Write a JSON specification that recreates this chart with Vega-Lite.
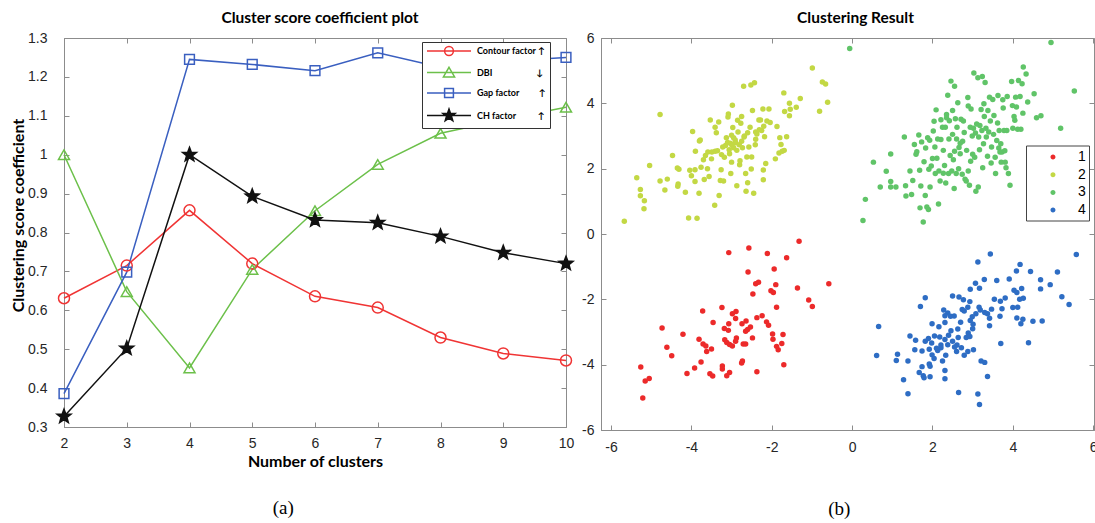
{
"$schema": "https://vega.github.io/schema/vega-lite/v6.json",
"background": "white",
"padding": {"left": 10, "top": 10, "right": 0, "bottom": 0},
"spacing": 4,
"config": {
  "view": {"stroke": "#8c8c8c", "strokeWidth": 1},
  "axis": {"grid": false, "labelFont": "Liberation Sans", "labelFontSize": 14, "labelColor": "#262626", "domainColor": "#8c8c8c", "tickColor": "#8c8c8c", "tickSize": -5, "labelPadding": 12, "titleFont": "Lato", "titleFontSize": 16, "titleFontWeight": "bold", "titleColor": "#000000", "labelFlush": false, "labelOverlap": false},
  "title": {"font": "Lato", "fontSize": 15.5, "fontWeight": "bold", "color": "#000000", "offset": 5, "frame": "group"}
},
"datasets": {
"lines": [
{"k":2,"v":0.631,"s":"Contour factor"},{"k":3,"v":0.715,"s":"Contour factor"},{"k":4,"v":0.857,"s":"Contour factor"},{"k":5,"v":0.72,"s":"Contour factor"},{"k":6,"v":0.636,"s":"Contour factor"},{"k":7,"v":0.607,"s":"Contour factor"},{"k":8,"v":0.53,"s":"Contour factor"},{"k":9,"v":0.489,"s":"Contour factor"},{"k":10,"v":0.471,"s":"Contour factor"},
{"k":2,"v":1.0,"s":"DBI"},{"k":3,"v":0.648,"s":"DBI"},{"k":4,"v":0.452,"s":"DBI"},{"k":5,"v":0.705,"s":"DBI"},{"k":6,"v":0.856,"s":"DBI"},{"k":7,"v":0.975,"s":"DBI"},{"k":8,"v":1.055,"s":"DBI"},{"k":9,"v":1.09,"s":"DBI"},{"k":10,"v":1.122,"s":"DBI"},
{"k":2,"v":0.386,"s":"Gap factor"},{"k":3,"v":0.698,"s":"Gap factor"},{"k":4,"v":1.245,"s":"Gap factor"},{"k":5,"v":1.232,"s":"Gap factor"},{"k":6,"v":1.216,"s":"Gap factor"},{"k":7,"v":1.262,"s":"Gap factor"},{"k":8,"v":1.225,"s":"Gap factor"},{"k":9,"v":1.24,"s":"Gap factor"},{"k":10,"v":1.25,"s":"Gap factor"},
{"k":2,"v":0.327,"s":"CH factor"},{"k":3,"v":0.502,"s":"CH factor"},{"k":4,"v":1.0,"s":"CH factor"},{"k":5,"v":0.893,"s":"CH factor"},{"k":6,"v":0.832,"s":"CH factor"},{"k":7,"v":0.825,"s":"CH factor"},{"k":8,"v":0.79,"s":"CH factor"},{"k":9,"v":0.748,"s":"CH factor"},{"k":10,"v":0.72,"s":"CH factor"}
],
"pts": [
{"x":-1.32,"y":-0.22,"c":"1"},{"x":-3.07,"y":-0.57,"c":"1"},{"x":-2.57,"y":-0.43,"c":"1"},{"x":-2.11,"y":-0.6,"c":"1"},{"x":-1.63,"y":-0.73,"c":"1"},{"x":-2.59,"y":-1.16,"c":"1"},{"x":-1.94,"y":-1.07,"c":"1"},{"x":-2.4,"y":-1.52,"c":"1"},{"x":-2.33,"y":-1.48,"c":"1"},{"x":-1.9,"y":-1.55,"c":"1"},{"x":-0.58,"y":-1.52,"c":"1"},{"x":-1.36,"y":-1.65,"c":"1"},{"x":-2.02,"y":-1.74,"c":"1"},{"x":-1.96,"y":-1.79,"c":"1"},{"x":-2.47,"y":-1.84,"c":"1"},{"x":-1.08,"y":-2.02,"c":"1"},{"x":-0.99,"y":-2.22,"c":"1"},{"x":-1.88,"y":-2.24,"c":"1"},{"x":-3.24,"y":-2.25,"c":"1"},{"x":-3.72,"y":-2.36,"c":"1"},{"x":-2.89,"y":-2.37,"c":"1"},{"x":-2.98,"y":-2.44,"c":"1"},{"x":-2.24,"y":-2.5,"c":"1"},{"x":-2.37,"y":-2.56,"c":"1"},{"x":-2.9,"y":-2.59,"c":"1"},{"x":-2.64,"y":-2.66,"c":"1"},{"x":-2.13,"y":-2.69,"c":"1"},{"x":-3.46,"y":-2.71,"c":"1"},{"x":-2.74,"y":-2.75,"c":"1"},{"x":-3.07,"y":-2.75,"c":"1"},{"x":-2.08,"y":-2.79,"c":"1"},{"x":-2.53,"y":-2.85,"c":"1"},{"x":-4.73,"y":-2.88,"c":"1"},{"x":-3.18,"y":-2.89,"c":"1"},{"x":-3.08,"y":-2.95,"c":"1"},{"x":-2.65,"y":-2.98,"c":"1"},{"x":-2.6,"y":-2.92,"c":"1"},{"x":-4.21,"y":-3.07,"c":"1"},{"x":-1.72,"y":-3.08,"c":"1"},{"x":-1.98,"y":-3.06,"c":"1"},{"x":-2.48,"y":-3.18,"c":"1"},{"x":-1.97,"y":-3.22,"c":"1"},{"x":-2.88,"y":-3.18,"c":"1"},{"x":-3.17,"y":-3.24,"c":"1"},{"x":-3.81,"y":-3.22,"c":"1"},{"x":-2.9,"y":-3.28,"c":"1"},{"x":-3.12,"y":-3.32,"c":"1"},{"x":-1.75,"y":-3.35,"c":"1"},{"x":-2.71,"y":-3.37,"c":"1"},{"x":-2.65,"y":-3.37,"c":"1"},{"x":-3.71,"y":-3.37,"c":"1"},{"x":-3.05,"y":-3.38,"c":"1"},{"x":-3.64,"y":-3.43,"c":"1"},{"x":-2.98,"y":-3.43,"c":"1"},{"x":-1.88,"y":-3.44,"c":"1"},{"x":-4.61,"y":-3.47,"c":"1"},{"x":-1.84,"y":-3.54,"c":"1"},{"x":-3.5,"y":-3.52,"c":"1"},{"x":-3.62,"y":-3.6,"c":"1"},{"x":-4.49,"y":-3.73,"c":"1"},{"x":-3.76,"y":-3.92,"c":"1"},{"x":-2.73,"y":-3.89,"c":"1"},{"x":-2.75,"y":-3.95,"c":"1"},{"x":-1.7,"y":-4.0,"c":"1"},{"x":-3.92,"y":-4.1,"c":"1"},{"x":-3.23,"y":-4.04,"c":"1"},{"x":-3.23,"y":-4.13,"c":"1"},{"x":-5.26,"y":-4.07,"c":"1"},{"x":-3.05,"y":-4.24,"c":"1"},{"x":-2.37,"y":-4.22,"c":"1"},{"x":-4.11,"y":-4.27,"c":"1"},{"x":-3.54,"y":-4.28,"c":"1"},{"x":-3.47,"y":-4.35,"c":"1"},{"x":-3.12,"y":-4.34,"c":"1"},{"x":-5.05,"y":-4.42,"c":"1"},{"x":-5.15,"y":-4.5,"c":"1"},{"x":-5.21,"y":-5.02,"c":"1"},
{"x":-5.67,"y":0.39,"c":"2"},{"x":-5.36,"y":1.72,"c":"2"},{"x":-5.27,"y":1.36,"c":"2"},{"x":-5.27,"y":1.17,"c":"2"},{"x":-5.17,"y":1.02,"c":"2"},{"x":-5.18,"y":0.77,"c":"2"},{"x":-5.04,"y":2.1,"c":"2"},{"x":-4.78,"y":3.66,"c":"2"},{"x":-4.78,"y":1.62,"c":"2"},{"x":-4.66,"y":1.35,"c":"2"},{"x":-4.6,"y":1.68,"c":"2"},{"x":-4.47,"y":2.4,"c":"2"},{"x":-4.35,"y":2.02,"c":"2"},{"x":-4.31,"y":1.98,"c":"2"},{"x":-4.33,"y":1.53,"c":"2"},{"x":-4.34,"y":1.46,"c":"2"},{"x":-4.15,"y":1.28,"c":"2"},{"x":-3.97,"y":3.14,"c":"2"},{"x":-4.07,"y":0.49,"c":"2"},{"x":-3.86,"y":0.48,"c":"2"},{"x":-4.04,"y":1.95,"c":"2"},{"x":-4.0,"y":1.78,"c":"2"},{"x":-3.91,"y":1.97,"c":"2"},{"x":-3.9,"y":2.53,"c":"2"},{"x":-3.91,"y":1.61,"c":"2"},{"x":-3.81,"y":1.25,"c":"2"},{"x":-3.8,"y":2.85,"c":"2"},{"x":-3.78,"y":2.88,"c":"2"},{"x":-3.76,"y":2.04,"c":"2"},{"x":-3.7,"y":2.27,"c":"2"},{"x":-3.68,"y":1.67,"c":"2"},{"x":-3.65,"y":2.4,"c":"2"},{"x":-3.59,"y":2.51,"c":"2"},{"x":-3.53,"y":3.49,"c":"2"},{"x":-3.56,"y":1.76,"c":"2"},{"x":-3.49,"y":2.51,"c":"2"},{"x":-3.42,"y":0.88,"c":"2"},{"x":-3.41,"y":2.53,"c":"2"},{"x":-3.41,"y":3.27,"c":"2"},{"x":-3.38,"y":3.1,"c":"2"},{"x":-3.32,"y":3.43,"c":"2"},{"x":-3.31,"y":1.18,"c":"2"},{"x":-3.28,"y":1.64,"c":"2"},{"x":-3.26,"y":1.97,"c":"2"},{"x":-3.25,"y":2.43,"c":"2"},{"x":-3.22,"y":2.66,"c":"2"},{"x":-3.2,"y":1.62,"c":"2"},{"x":-3.18,"y":2.35,"c":"2"},{"x":-3.15,"y":2.71,"c":"2"},{"x":-3.13,"y":2.95,"c":"2"},{"x":-3.09,"y":3.58,"c":"2"},{"x":-3.08,"y":3.67,"c":"2"},{"x":-3.06,"y":2.58,"c":"2"},{"x":-3.05,"y":2.46,"c":"2"},{"x":-3.03,"y":2.78,"c":"2"},{"x":-3.02,"y":1.85,"c":"2"},{"x":-3.0,"y":3.02,"c":"2"},{"x":-2.99,"y":2.72,"c":"2"},{"x":-2.98,"y":3.94,"c":"2"},{"x":-2.97,"y":3.26,"c":"2"},{"x":-2.95,"y":2.64,"c":"2"},{"x":-2.91,"y":2.88,"c":"2"},{"x":-2.9,"y":2.79,"c":"2"},{"x":-2.87,"y":1.48,"c":"2"},{"x":-2.87,"y":2.56,"c":"2"},{"x":-2.85,"y":3.48,"c":"2"},{"x":-2.84,"y":3.12,"c":"2"},{"x":-2.81,"y":2.73,"c":"2"},{"x":-2.8,"y":2.12,"c":"2"},{"x":-2.79,"y":2.24,"c":"2"},{"x":-2.77,"y":3.39,"c":"2"},{"x":-2.75,"y":2.84,"c":"2"},{"x":-2.73,"y":2.64,"c":"2"},{"x":-2.7,"y":4.52,"c":"2"},{"x":-2.69,"y":2.97,"c":"2"},{"x":-2.68,"y":3.0,"c":"2"},{"x":-2.65,"y":1.85,"c":"2"},{"x":-2.64,"y":1.31,"c":"2"},{"x":-2.62,"y":2.36,"c":"2"},{"x":-2.6,"y":1.57,"c":"2"},{"x":-2.57,"y":2.66,"c":"2"},{"x":-2.54,"y":3.27,"c":"2"},{"x":-2.52,"y":4.56,"c":"2"},{"x":-2.51,"y":1.99,"c":"2"},{"x":-2.5,"y":2.36,"c":"2"},{"x":-2.48,"y":3.78,"c":"2"},{"x":-2.45,"y":1.25,"c":"2"},{"x":-2.43,"y":4.63,"c":"2"},{"x":-2.4,"y":3.12,"c":"2"},{"x":-2.37,"y":3.06,"c":"2"},{"x":-2.32,"y":3.49,"c":"2"},{"x":-2.31,"y":3.19,"c":"2"},{"x":-2.28,"y":3.49,"c":"2"},{"x":-2.25,"y":3.17,"c":"2"},{"x":-2.22,"y":3.83,"c":"2"},{"x":-2.21,"y":1.96,"c":"2"},{"x":-2.21,"y":1.66,"c":"2"},{"x":-2.18,"y":2.98,"c":"2"},{"x":-2.15,"y":2.16,"c":"2"},{"x":-2.12,"y":3.46,"c":"2"},{"x":-2.07,"y":3.83,"c":"2"},{"x":-2.04,"y":3.41,"c":"2"},{"x":-1.91,"y":2.3,"c":"2"},{"x":-1.87,"y":3.29,"c":"2"},{"x":-1.82,"y":2.48,"c":"2"},{"x":-1.8,"y":2.95,"c":"2"},{"x":-1.77,"y":2.74,"c":"2"},{"x":-1.74,"y":2.53,"c":"2"},{"x":-1.7,"y":4.32,"c":"2"},{"x":-1.69,"y":2.56,"c":"2"},{"x":-1.68,"y":3.75,"c":"2"},{"x":-1.63,"y":2.98,"c":"2"},{"x":-1.56,"y":3.62,"c":"2"},{"x":-1.56,"y":4.0,"c":"2"},{"x":-1.54,"y":3.82,"c":"2"},{"x":-1.39,"y":3.88,"c":"2"},{"x":-1.29,"y":4.15,"c":"2"},{"x":-0.99,"y":5.08,"c":"2"},{"x":-0.81,"y":3.76,"c":"2"},{"x":-0.74,"y":4.65,"c":"2"},{"x":-0.66,"y":4.59,"c":"2"},{"x":-0.61,"y":4.03,"c":"2"},{"x":-2.41,"y":2.73,"c":"2"},{"x":-3.1,"y":2.8,"c":"2"},{"x":-2.95,"y":2.95,"c":"2"},{"x":-3.35,"y":2.55,"c":"2"},{"x":-2.6,"y":3.1,"c":"2"},{"x":-3.5,"y":2.3,"c":"2"},{"x":-2.4,"y":2.9,"c":"2"},{"x":-2.2,"y":3.3,"c":"2"},{"x":-3.6,"y":2.0,"c":"2"},{"x":-2.75,"y":3.6,"c":"2"},{"x":-3.0,"y":2.2,"c":"2"},
{"x":-0.06,"y":5.68,"c":"3"},{"x":4.95,"y":5.86,"c":"3"},{"x":5.53,"y":4.38,"c":"3"},{"x":0.27,"y":0.41,"c":"3"},{"x":0.33,"y":1.06,"c":"3"},{"x":0.53,"y":2.2,"c":"3"},{"x":0.7,"y":1.44,"c":"3"},{"x":0.85,"y":1.92,"c":"3"},{"x":0.96,"y":2.45,"c":"3"},{"x":0.96,"y":1.61,"c":"3"},{"x":0.96,"y":1.44,"c":"3"},{"x":1.09,"y":1.44,"c":"3"},{"x":1.3,"y":2.97,"c":"3"},{"x":1.33,"y":1.48,"c":"3"},{"x":1.34,"y":1.16,"c":"3"},{"x":1.44,"y":1.93,"c":"3"},{"x":1.48,"y":1.21,"c":"3"},{"x":1.51,"y":1.64,"c":"3"},{"x":1.55,"y":2.74,"c":"3"},{"x":1.59,"y":2.44,"c":"3"},{"x":1.61,"y":2.52,"c":"3"},{"x":1.66,"y":3.03,"c":"3"},{"x":1.68,"y":1.95,"c":"3"},{"x":1.69,"y":0.8,"c":"3"},{"x":1.71,"y":1.47,"c":"3"},{"x":1.73,"y":2.82,"c":"3"},{"x":1.77,"y":0.37,"c":"3"},{"x":1.79,"y":2.21,"c":"3"},{"x":1.82,"y":1.18,"c":"3"},{"x":1.83,"y":2.63,"c":"3"},{"x":1.86,"y":0.83,"c":"3"},{"x":1.88,"y":2.95,"c":"3"},{"x":1.9,"y":0.75,"c":"3"},{"x":1.91,"y":1.98,"c":"3"},{"x":1.93,"y":2.87,"c":"3"},{"x":1.94,"y":1.44,"c":"3"},{"x":1.97,"y":2.08,"c":"3"},{"x":2.0,"y":2.31,"c":"3"},{"x":2.02,"y":3.15,"c":"3"},{"x":2.04,"y":3.45,"c":"3"},{"x":2.06,"y":2.66,"c":"3"},{"x":2.07,"y":1.85,"c":"3"},{"x":2.09,"y":3.8,"c":"3"},{"x":2.11,"y":2.32,"c":"3"},{"x":2.13,"y":2.91,"c":"3"},{"x":2.15,"y":0.92,"c":"3"},{"x":2.16,"y":1.93,"c":"3"},{"x":2.19,"y":1.62,"c":"3"},{"x":2.21,"y":2.89,"c":"3"},{"x":2.21,"y":3.5,"c":"3"},{"x":2.25,"y":3.27,"c":"3"},{"x":2.27,"y":1.86,"c":"3"},{"x":2.3,"y":2.1,"c":"3"},{"x":2.32,"y":3.27,"c":"3"},{"x":2.33,"y":1.56,"c":"3"},{"x":2.35,"y":3.66,"c":"3"},{"x":2.38,"y":4.25,"c":"3"},{"x":2.4,"y":1.85,"c":"3"},{"x":2.41,"y":2.91,"c":"3"},{"x":2.42,"y":3.47,"c":"3"},{"x":2.44,"y":2.4,"c":"3"},{"x":2.46,"y":4.68,"c":"3"},{"x":2.48,"y":1.93,"c":"3"},{"x":2.5,"y":3.78,"c":"3"},{"x":2.5,"y":3.05,"c":"3"},{"x":2.52,"y":2.27,"c":"3"},{"x":2.54,"y":1.39,"c":"3"},{"x":2.55,"y":4.52,"c":"3"},{"x":2.55,"y":2.53,"c":"3"},{"x":2.57,"y":3.53,"c":"3"},{"x":2.59,"y":1.85,"c":"3"},{"x":2.6,"y":2.91,"c":"3"},{"x":2.61,"y":3.27,"c":"3"},{"x":2.63,"y":4.02,"c":"3"},{"x":2.65,"y":2.0,"c":"3"},{"x":2.66,"y":2.65,"c":"3"},{"x":2.69,"y":2.78,"c":"3"},{"x":2.69,"y":2.46,"c":"3"},{"x":2.71,"y":3.51,"c":"3"},{"x":2.74,"y":1.83,"c":"3"},{"x":2.75,"y":2.84,"c":"3"},{"x":2.77,"y":3.46,"c":"3"},{"x":2.79,"y":3.11,"c":"3"},{"x":2.81,"y":1.68,"c":"3"},{"x":2.84,"y":1.62,"c":"3"},{"x":2.85,"y":2.56,"c":"3"},{"x":2.88,"y":4.18,"c":"3"},{"x":2.89,"y":1.93,"c":"3"},{"x":2.89,"y":3.92,"c":"3"},{"x":2.92,"y":1.49,"c":"3"},{"x":2.94,"y":3.27,"c":"3"},{"x":2.95,"y":2.23,"c":"3"},{"x":2.96,"y":3.83,"c":"3"},{"x":2.99,"y":3.0,"c":"3"},{"x":3.0,"y":2.44,"c":"3"},{"x":3.02,"y":3.24,"c":"3"},{"x":3.03,"y":4.93,"c":"3"},{"x":3.05,"y":2.35,"c":"3"},{"x":3.07,"y":3.09,"c":"3"},{"x":3.08,"y":1.31,"c":"3"},{"x":3.1,"y":3.37,"c":"3"},{"x":3.13,"y":4.78,"c":"3"},{"x":3.14,"y":1.44,"c":"3"},{"x":3.15,"y":2.97,"c":"3"},{"x":3.17,"y":2.58,"c":"3"},{"x":3.18,"y":3.32,"c":"3"},{"x":3.21,"y":3.81,"c":"3"},{"x":3.23,"y":3.17,"c":"3"},{"x":3.24,"y":4.82,"c":"3"},{"x":3.25,"y":2.03,"c":"3"},{"x":3.27,"y":2.76,"c":"3"},{"x":3.28,"y":3.99,"c":"3"},{"x":3.29,"y":3.6,"c":"3"},{"x":3.31,"y":4.64,"c":"3"},{"x":3.33,"y":3.24,"c":"3"},{"x":3.34,"y":2.97,"c":"3"},{"x":3.37,"y":2.38,"c":"3"},{"x":3.38,"y":3.78,"c":"3"},{"x":3.4,"y":3.12,"c":"3"},{"x":3.42,"y":4.19,"c":"3"},{"x":3.44,"y":3.46,"c":"3"},{"x":3.46,"y":2.17,"c":"3"},{"x":3.47,"y":2.66,"c":"3"},{"x":3.5,"y":4.12,"c":"3"},{"x":3.52,"y":3.05,"c":"3"},{"x":3.53,"y":3.63,"c":"3"},{"x":3.56,"y":2.35,"c":"3"},{"x":3.57,"y":1.85,"c":"3"},{"x":3.6,"y":2.86,"c":"3"},{"x":3.62,"y":3.4,"c":"3"},{"x":3.63,"y":4.24,"c":"3"},{"x":3.65,"y":2.63,"c":"3"},{"x":3.66,"y":3.17,"c":"3"},{"x":3.68,"y":2.51,"c":"3"},{"x":3.7,"y":2.76,"c":"3"},{"x":3.71,"y":2.2,"c":"3"},{"x":3.73,"y":2.51,"c":"3"},{"x":3.75,"y":4.11,"c":"3"},{"x":3.76,"y":3.86,"c":"3"},{"x":3.78,"y":3.17,"c":"3"},{"x":3.8,"y":2.55,"c":"3"},{"x":3.81,"y":2.2,"c":"3"},{"x":3.83,"y":2.03,"c":"3"},{"x":3.85,"y":3.17,"c":"3"},{"x":3.86,"y":4.21,"c":"3"},{"x":3.89,"y":1.85,"c":"3"},{"x":3.93,"y":1.49,"c":"3"},{"x":3.97,"y":4.67,"c":"3"},{"x":3.99,"y":3.93,"c":"3"},{"x":4.0,"y":3.24,"c":"3"},{"x":4.03,"y":3.6,"c":"3"},{"x":4.05,"y":3.48,"c":"3"},{"x":4.07,"y":4.19,"c":"3"},{"x":4.09,"y":3.89,"c":"3"},{"x":4.12,"y":3.21,"c":"3"},{"x":4.14,"y":4.7,"c":"3"},{"x":4.18,"y":4.21,"c":"3"},{"x":4.2,"y":3.21,"c":"3"},{"x":4.23,"y":4.6,"c":"3"},{"x":4.25,"y":3.7,"c":"3"},{"x":4.26,"y":5.11,"c":"3"},{"x":4.33,"y":4.9,"c":"3"},{"x":4.37,"y":4.04,"c":"3"},{"x":4.53,"y":4.29,"c":"3"},{"x":4.59,"y":3.56,"c":"3"},{"x":4.7,"y":3.62,"c":"3"},{"x":5.19,"y":3.24,"c":"3"},{"x":2.35,"y":3.56,"c":"3"},{"x":2.27,"y":2.56,"c":"3"},
{"x":3.44,"y":-0.61,"c":"4"},{"x":5.58,"y":-0.63,"c":"4"},{"x":3.13,"y":-0.86,"c":"4"},{"x":4.18,"y":-0.93,"c":"4"},{"x":4.09,"y":-1.13,"c":"4"},{"x":4.44,"y":-1.15,"c":"4"},{"x":5.11,"y":-1.16,"c":"4"},{"x":3.29,"y":-1.39,"c":"4"},{"x":3.91,"y":-1.38,"c":"4"},{"x":3.6,"y":-1.42,"c":"4"},{"x":4.69,"y":-1.4,"c":"4"},{"x":3.07,"y":-1.51,"c":"4"},{"x":4.93,"y":-1.55,"c":"4"},{"x":3.17,"y":-1.66,"c":"4"},{"x":2.94,"y":-1.69,"c":"4"},{"x":4.22,"y":-1.67,"c":"4"},{"x":4.69,"y":-1.68,"c":"4"},{"x":4.03,"y":-1.72,"c":"4"},{"x":4.1,"y":-1.79,"c":"4"},{"x":2.5,"y":-1.9,"c":"4"},{"x":2.66,"y":-1.93,"c":"4"},{"x":1.82,"y":-1.95,"c":"4"},{"x":2.77,"y":-2.01,"c":"4"},{"x":3.54,"y":-2.0,"c":"4"},{"x":3.81,"y":-1.96,"c":"4"},{"x":4.17,"y":-2.0,"c":"4"},{"x":4.26,"y":-1.97,"c":"4"},{"x":5.22,"y":-1.92,"c":"4"},{"x":2.93,"y":-2.07,"c":"4"},{"x":3.69,"y":-2.06,"c":"4"},{"x":5.4,"y":-2.16,"c":"4"},{"x":1.7,"y":-2.22,"c":"4"},{"x":2.88,"y":-2.24,"c":"4"},{"x":3.16,"y":-2.24,"c":"4"},{"x":3.47,"y":-2.3,"c":"4"},{"x":3.73,"y":-2.29,"c":"4"},{"x":4.0,"y":-2.25,"c":"4"},{"x":4.12,"y":-2.24,"c":"4"},{"x":2.74,"y":-2.31,"c":"4"},{"x":2.28,"y":-2.33,"c":"4"},{"x":3.19,"y":-2.33,"c":"4"},{"x":2.38,"y":-2.42,"c":"4"},{"x":2.79,"y":-2.36,"c":"4"},{"x":3.08,"y":-2.44,"c":"4"},{"x":3.37,"y":-2.44,"c":"4"},{"x":2.31,"y":-2.5,"c":"4"},{"x":2.45,"y":-2.52,"c":"4"},{"x":2.54,"y":-2.51,"c":"4"},{"x":2.99,"y":-2.53,"c":"4"},{"x":3.68,"y":-2.52,"c":"4"},{"x":4.1,"y":-2.57,"c":"4"},{"x":4.25,"y":-2.61,"c":"4"},{"x":3.42,"y":-2.58,"c":"4"},{"x":4.5,"y":-2.67,"c":"4"},{"x":4.73,"y":-2.66,"c":"4"},{"x":2.31,"y":-2.71,"c":"4"},{"x":2.94,"y":-2.65,"c":"4"},{"x":1.99,"y":-2.75,"c":"4"},{"x":3.01,"y":-2.76,"c":"4"},{"x":4.2,"y":-2.75,"c":"4"},{"x":3.42,"y":-2.81,"c":"4"},{"x":2.16,"y":-2.84,"c":"4"},{"x":0.66,"y":-2.83,"c":"4"},{"x":2.63,"y":-2.91,"c":"4"},{"x":2.46,"y":-2.96,"c":"4"},{"x":2.89,"y":-3.03,"c":"4"},{"x":2.05,"y":-3.12,"c":"4"},{"x":1.44,"y":-3.12,"c":"4"},{"x":2.18,"y":-3.15,"c":"4"},{"x":2.64,"y":-3.17,"c":"4"},{"x":2.84,"y":-3.17,"c":"4"},{"x":2.93,"y":-3.14,"c":"4"},{"x":2.31,"y":-3.23,"c":"4"},{"x":1.58,"y":-3.25,"c":"4"},{"x":1.82,"y":-3.28,"c":"4"},{"x":3.7,"y":-3.35,"c":"4"},{"x":4.39,"y":-3.33,"c":"4"},{"x":2.5,"y":-3.28,"c":"4"},{"x":1.98,"y":-3.34,"c":"4"},{"x":2.21,"y":-3.4,"c":"4"},{"x":2.38,"y":-3.39,"c":"4"},{"x":2.61,"y":-3.4,"c":"4"},{"x":2.55,"y":-3.46,"c":"4"},{"x":2.72,"y":-3.48,"c":"4"},{"x":2.21,"y":-3.48,"c":"4"},{"x":1.56,"y":-3.54,"c":"4"},{"x":1.92,"y":-3.53,"c":"4"},{"x":1.74,"y":-3.58,"c":"4"},{"x":2.13,"y":-3.57,"c":"4"},{"x":3.02,"y":-3.54,"c":"4"},{"x":2.88,"y":-3.6,"c":"4"},{"x":0.61,"y":-3.72,"c":"4"},{"x":1.13,"y":-3.68,"c":"4"},{"x":1.99,"y":-3.7,"c":"4"},{"x":2.33,"y":-3.71,"c":"4"},{"x":2.79,"y":-3.71,"c":"4"},{"x":2.04,"y":-3.81,"c":"4"},{"x":1.1,"y":-3.87,"c":"4"},{"x":1.39,"y":-3.89,"c":"4"},{"x":2.25,"y":-3.89,"c":"4"},{"x":3.21,"y":-3.89,"c":"4"},{"x":3.3,"y":-3.93,"c":"4"},{"x":1.92,"y":-3.98,"c":"4"},{"x":1.94,"y":-4.05,"c":"4"},{"x":1.74,"y":-4.06,"c":"4"},{"x":2.31,"y":-4.18,"c":"4"},{"x":1.67,"y":-4.24,"c":"4"},{"x":1.77,"y":-4.34,"c":"4"},{"x":1.79,"y":-4.4,"c":"4"},{"x":1.94,"y":-4.37,"c":"4"},{"x":3.37,"y":-4.36,"c":"4"},{"x":2.31,"y":-4.43,"c":"4"},{"x":1.28,"y":-4.46,"c":"4"},{"x":1.39,"y":-4.89,"c":"4"},{"x":2.65,"y":-4.85,"c":"4"},{"x":3.13,"y":-4.9,"c":"4"},{"x":3.17,"y":-5.22,"c":"4"},{"x":2.4,"y":-3.1,"c":"4"},{"x":2.7,"y":-2.7,"c":"4"},{"x":3.0,"y":-2.9,"c":"4"},{"x":2.1,"y":-3.5,"c":"4"},{"x":3.3,"y":-2.4,"c":"4"},{"x":2.6,"y":-3.6,"c":"4"},{"x":1.9,"y":-3.2,"c":"4"}
]
},
"hconcat": [
{
  "title": {"text": "(a)", "orient": "bottom", "anchor": "middle", "frame": "bounds", "dx": -10, "font": "Liberation Serif", "fontSize": 19, "fontWeight": "normal", "offset": 29},
  "vconcat": [{
    "title": {"text": "Cluster score coefficient plot", "dx": 5},
    "width": 502, "height": 389,
    "layer": [
      {"data": {"name": "lines"}, "mark": {"type": "line", "strokeWidth": 1.5},
       "encoding": {
         "x": {"field": "k", "type": "quantitative", "scale": {"domain": [2, 10], "nice": false, "zero": false}, "axis": {"values": [2,3,4,5,6,7,8,9,10], "title": "Number of clusters", "titlePadding": 3, "labelPadding": 14}},
         "y": {"field": "v", "type": "quantitative", "scale": {"domain": [0.3, 1.3], "nice": false, "zero": false}, "axis": {"values": [0.3,0.4,0.5,0.6,0.7,0.8,0.9,1.0,1.1,1.2,1.3], "format": ".2~f", "title": "Clustering score coefficient", "titlePadding": 1, "labelPadding": 22, "titleY": 177}},
         "color": {"field": "s", "type": "nominal", "scale": {"domain": ["Contour factor","DBI","Gap factor","CH factor"], "range": ["#f03434","#6cc04a","#3a5fc0","#111111"]}, "legend": null}
       }},
      {"data": {"name": "lines"}, "mark": {"type": "point", "filled": false, "strokeWidth": 1.5, "opacity": 1},
       "encoding": {
         "x": {"field": "k", "type": "quantitative", "axis": null},
         "y": {"field": "v", "type": "quantitative", "axis": null},
         "color": {"field": "s", "type": "nominal", "scale": {"domain": ["Contour factor","DBI","Gap factor","CH factor"], "range": ["#f03434","#6cc04a","#3a5fc0","#111111"]}, "legend": null},
         "shape": {"field": "s", "type": "nominal", "scale": {"domain": ["Contour factor","DBI","Gap factor","CH factor"], "range": ["circle","triangle-up","square","M0,-1L0.247,-0.34L0.951,-0.309L0.399,0.13L0.588,0.809L0,0.42L-0.588,0.809L-0.399,0.13L-0.951,-0.309L-0.247,-0.34Z"]}, "legend": null},
         "fill": {"condition": {"test": "datum.s === 'CH factor'", "value": "#111111"}, "value": "transparent"},
         "size": {"condition": [{"test": "datum.s === 'CH factor'", "value": 216}, {"test": "datum.s === 'Gap factor'", "value": 95}], "value": 121}
       }},
      {"data": {"name": "lines"}, "transform": [{"filter": "false"}], "mark": {"type": "point", "filled": false, "strokeWidth": 1.5, "opacity": 1},
       "encoding": {
         "x": {"field": "k", "type": "quantitative", "axis": {"orient": "top", "values": [2,3,4,5,6,7,8,9,10], "labels": false, "domain": false, "title": null}},
         "y": {"field": "v", "type": "quantitative", "axis": {"orient": "right", "values": [0.3,0.4,0.5,0.6,0.7,0.8,0.9,1.0,1.1,1.2,1.3], "labels": false, "domain": false, "title": null}},
         "color": {"field": "s", "type": "nominal", "scale": {"domain": ["Contour factor","DBI","Gap factor","CH factor"], "range": ["#f03434","#6cc04a","#3a5fc0","#111111"]},
           "legend": {"title": null, "orient": "none", "legendX": 358, "legendY": 4, "fillColor": "white", "strokeColor": "#333333", "padding": 4, "symbolSize": 64, "symbolStrokeWidth": 1.5, "labelFont": "Lato", "labelFontWeight": "bold", "labelFontSize": 9, "labelColor": "#000000", "labelOffset": 41, "rowPadding": 4.5, "labelExpr": "datum.label == 'Contour factor' ? 'Contour factor\u00a0↑' : datum.label == 'DBI' ? 'DBI\u00a0\u00a0\u00a0\u00a0\u00a0\u00a0\u00a0\u00a0\u00a0\u00a0\u00a0\u00a0\u00a0\u00a0\u00a0\u00a0\u00a0\u00a0\u00a0\u00a0↓' : datum.label == 'Gap factor' ? 'Gap factor\u00a0\u00a0\u00a0\u00a0\u00a0\u00a0\u00a0\u00a0\u00a0↑' : 'CH factor\u00a0\u00a0\u00a0\u00a0\u00a0\u00a0\u00a0\u00a0\u00a0\u00a0↑'"}},
         "shape": {"field": "s", "type": "nominal", "scale": {"domain": ["Contour factor","DBI","Gap factor","CH factor"], "range": [
             "M-1,0L10,0M5.6,0A1.1,1.1 0 1,1 3.4,0A1.1,1.1 0 1,1 5.6,0",
             "M-1,0L10,0M4.5,-1.3L5.9,1.1L3.1,1.1Z",
             "M-1,0L10,0M3.4,-1.1L5.6,-1.1L5.6,1.1L3.4,1.1Z",
             "M-1,0L10,0M4.5,-1.6L4.882,-0.526L6.022,-0.494L5.118,0.201L5.44,1.294L4.5,0.65L3.56,1.294L3.882,0.201L2.978,-0.494L4.118,-0.526Z"]},
           "legend": {"title": null, "orient": "none", "legendX": 358, "legendY": 4, "fillColor": "white", "strokeColor": "#333333", "padding": 4, "symbolSize": 64, "symbolStrokeWidth": 1.5, "labelFont": "Lato", "labelFontWeight": "bold", "labelFontSize": 9, "labelColor": "#000000", "labelOffset": 41, "rowPadding": 4.5, "labelExpr": "datum.label == 'Contour factor' ? 'Contour factor\u00a0↑' : datum.label == 'DBI' ? 'DBI\u00a0\u00a0\u00a0\u00a0\u00a0\u00a0\u00a0\u00a0\u00a0\u00a0\u00a0\u00a0\u00a0\u00a0\u00a0\u00a0\u00a0\u00a0\u00a0\u00a0↓' : datum.label == 'Gap factor' ? 'Gap factor\u00a0\u00a0\u00a0\u00a0\u00a0\u00a0\u00a0\u00a0\u00a0↑' : 'CH factor\u00a0\u00a0\u00a0\u00a0\u00a0\u00a0\u00a0\u00a0\u00a0\u00a0↑'"}},
         "fill": {"field": "s", "type": "nominal", "scale": {"domain": ["Contour factor","DBI","Gap factor","CH factor"], "range": ["transparent","transparent","transparent","#111111"]},
           "legend": {"title": null, "orient": "none", "legendX": 358, "legendY": 4, "fillColor": "white", "strokeColor": "#333333", "padding": 4, "symbolSize": 64, "symbolStrokeWidth": 1.5, "labelFont": "Lato", "labelFontWeight": "bold", "labelFontSize": 9, "labelColor": "#000000", "labelOffset": 41, "rowPadding": 4.5, "labelExpr": "datum.label == 'Contour factor' ? 'Contour factor\u00a0↑' : datum.label == 'DBI' ? 'DBI\u00a0\u00a0\u00a0\u00a0\u00a0\u00a0\u00a0\u00a0\u00a0\u00a0\u00a0\u00a0\u00a0\u00a0\u00a0\u00a0\u00a0\u00a0\u00a0\u00a0↓' : datum.label == 'Gap factor' ? 'Gap factor\u00a0\u00a0\u00a0\u00a0\u00a0\u00a0\u00a0\u00a0\u00a0↑' : 'CH factor\u00a0\u00a0\u00a0\u00a0\u00a0\u00a0\u00a0\u00a0\u00a0\u00a0↑'"}}
       }}
    ],
    "resolve": {"scale": {"color": "independent", "shape": "independent", "fill": "independent"}, "axis": {"x": "independent", "y": "independent"}}
  }]
},
{
  "title": {"text": "(b)", "orient": "bottom", "anchor": "middle", "frame": "bounds", "font": "Liberation Serif", "fontSize": 19, "fontWeight": "normal", "offset": 45},
  "vconcat": [{
    "title": {"text": "Clustering Result", "dx": 8},
    "width": 493, "height": 392,
    "layer": [
      {"data": {"name": "pts"}, "mark": {"type": "circle", "size": 30, "opacity": 1},
       "encoding": {
         "x": {"field": "x", "type": "quantitative", "scale": {"domain": [-6.25, 6.02], "nice": false, "zero": false}, "axis": {"values": [-6,-4,-2,0,2,4,6], "labelExpr": "'' + datum.value", "title": null, "labelPadding": 15}},
         "y": {"field": "y", "type": "quantitative", "scale": {"domain": [-6, 6], "nice": false, "zero": false}, "axis": {"values": [-6,-4,-2,0,2,4,6], "labelExpr": "'' + datum.value", "title": null, "labelPadding": 12}},
         "color": {"field": "c", "type": "nominal", "scale": {"domain": ["1","2","3","4"], "range": ["#ec2a2a","#c3d844","#60c468","#2e6dc4"]},
           "legend": {"title": null, "orient": "none", "legendX": 962, "legendY": 107.5, "fillColor": "white", "strokeColor": "#444444", "padding": 3, "symbolType": "M2.114,0A0.294,0.294 0 1,1 1.526,0A0.294,0.294 0 1,1 2.114,0Z", "symbolSize": 289, "symbolStrokeWidth": 0, "labelFont": "Liberation Sans", "labelFontSize": 14, "labelColor": "#000000", "labelOffset": 32, "rowPadding": 1.7, "labelExpr": "datum.label + '\u00a0'"}}
       }},
      {"data": {"name": "pts"}, "transform": [{"filter": "false"}], "mark": {"type": "circle", "opacity": 1},
       "encoding": {
         "x": {"field": "x", "type": "quantitative", "axis": {"orient": "top", "values": [-6,-4,-2,0,2,4,6], "labels": false, "domain": false, "title": null}},
         "y": {"field": "y", "type": "quantitative", "axis": {"orient": "right", "values": [-6,-4,-2,0,2,4,6], "labels": false, "domain": false, "title": null}}
       }}
    ],
    "resolve": {"axis": {"x": "independent", "y": "independent"}}
  }]
}
]
}
